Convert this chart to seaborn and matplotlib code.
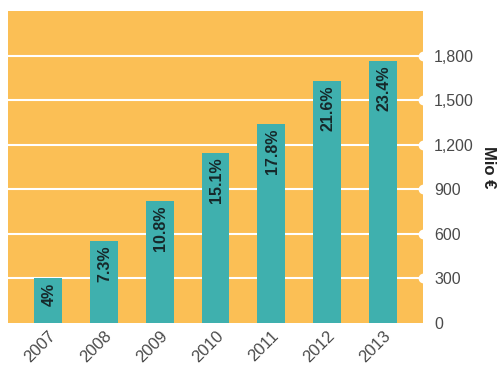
import matplotlib
matplotlib.use("Agg")
import matplotlib.pyplot as plt
import seaborn as sns
import pandas as pd

# values
years = ["2007", "2008", "2009", "2010", "2011", "2012", "2013"]
mio_eur = [300, 550, 820, 1145, 1340, 1630, 1760]
shares = ["4%", "7.3%", "10.8%", "15.1%", "17.8%", "21.6%", "23.4%"]
yticks = [0, 300, 600, 900, 1200, 1500, 1800]

df = pd.DataFrame({"year": years, "value": mio_eur, "share": shares})

sns.set_style("white")
plt.rcParams["font.family"] = ["Liberation Sans", "DejaVu Sans"]

fig = plt.figure(figsize=(5, 3.77), dpi=100)
ax = fig.add_axes([0.016, 0.143, 0.83, 0.828])
ax.set_facecolor("#fbbf55")

sns.barplot(df, x="year", y="value", color="#3fb0ae", width=0.5,
            saturation=1, linewidth=0, edgecolor="none", ax=ax, zorder=3)

ax.set_xlim(-0.72, 6.72)
ax.set_ylim(0, 2100)

# white gridlines with round bumps at the right edge
for t in yticks[1:]:
    ax.axhline(t, color="white", lw=1.5, zorder=1)
ax.plot([6.72] * (len(yticks) - 1), yticks[1:], "o", color="white",
        ms=6, clip_on=False, zorder=4)

# percentage labels inside bars
for i, (v, s) in enumerate(zip(mio_eur, shares)):
    ax.text(i + 0.02, v - 30, s, rotation=90, ha="center", va="top",
            fontsize=11.5, fontweight="bold", color="#16282a", zorder=5)

ax.yaxis.tick_right()
ax.set_yticks(yticks)
ax.set_yticklabels([f"{t:,}" for t in yticks])
ax.tick_params(axis="y", length=0, pad=8, labelsize=11.5, labelcolor="#4a4a4a")
ax.tick_params(axis="x", length=0, pad=4, labelsize=12, labelcolor="#4a4a4a")
plt.setp(ax.get_xticklabels(), rotation=45, ha="right", rotation_mode="anchor")

ax.set_xlabel("")
ax.set_ylabel("Mio €", rotation=-90, fontsize=12, fontweight="bold",
              color="#222222", labelpad=16)
ax.yaxis.set_label_position("right")

for sp in ax.spines.values():
    sp.set_visible(False)

fig.savefig("out.png", dpi=100)
